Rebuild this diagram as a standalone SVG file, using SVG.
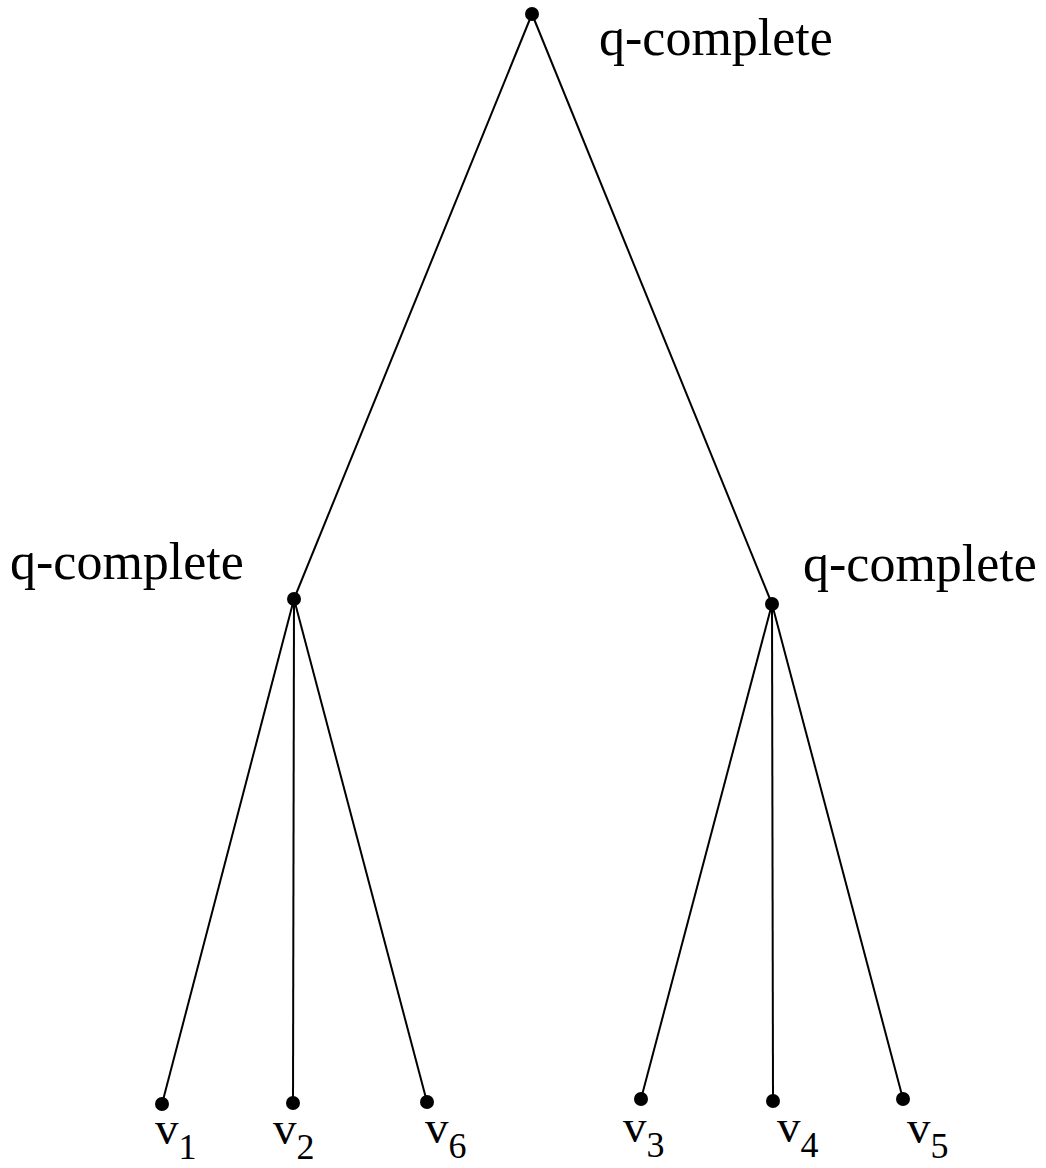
<svg xmlns="http://www.w3.org/2000/svg" width="1046" height="1168" viewBox="0 0 1046 1168">
<style>
.e{stroke:#000;stroke-width:2;fill:none}
.n{fill:#000}
.t{font-family:"Liberation Serif",serif;font-size:52px;fill:#000}
.v{font-family:"Liberation Serif",serif;font-size:47px;fill:#000}
.s{font-size:36px}
</style>
<rect width="1046" height="1168" fill="#fff"/>
<g id="edges">
<line class="e" x1="532" y1="14" x2="294" y2="599"/>
<line class="e" x1="532" y1="14" x2="772" y2="604"/>
<line class="e" x1="294" y1="599" x2="162" y2="1104"/>
<line class="e" x1="294" y1="599" x2="293" y2="1103"/>
<line class="e" x1="294" y1="599" x2="427" y2="1102"/>
<line class="e" x1="772" y1="604" x2="641" y2="1099"/>
<line class="e" x1="772" y1="604" x2="773" y2="1101"/>
<line class="e" x1="772" y1="604" x2="903" y2="1099"/>
</g>
<g id="root"><circle class="n" cx="532" cy="14" r="7"/><text class="t" x="599" y="55">q-complete</text></g>
<g id="left"><circle class="n" cx="294" cy="599" r="7"/><text class="t" x="10" y="579">q-complete</text></g>
<g id="right"><circle class="n" cx="772" cy="604" r="7"/><text class="t" x="803" y="581">q-complete</text></g>
<g id="v1"><circle class="n" cx="162" cy="1104" r="7"/><text class="v" x="155" y="1144">v<tspan class="s" dy="15">1</tspan></text></g>
<g id="v2"><circle class="n" cx="293" cy="1103" r="7"/><text class="v" x="273" y="1144">v<tspan class="s" dy="15">2</tspan></text></g>
<g id="v6"><circle class="n" cx="427" cy="1102" r="7"/><text class="v" x="425" y="1143">v<tspan class="s" dy="15">6</tspan></text></g>
<g id="v3"><circle class="n" cx="641" cy="1099" r="7"/><text class="v" x="623" y="1142">v<tspan class="s" dy="15">3</tspan></text></g>
<g id="v4"><circle class="n" cx="773" cy="1101" r="7"/><text class="v" x="777" y="1142">v<tspan class="s" dy="15">4</tspan></text></g>
<g id="v5"><circle class="n" cx="903" cy="1099" r="7"/><text class="v" x="907" y="1143">v<tspan class="s" dy="15">5</tspan></text></g>
</svg>
